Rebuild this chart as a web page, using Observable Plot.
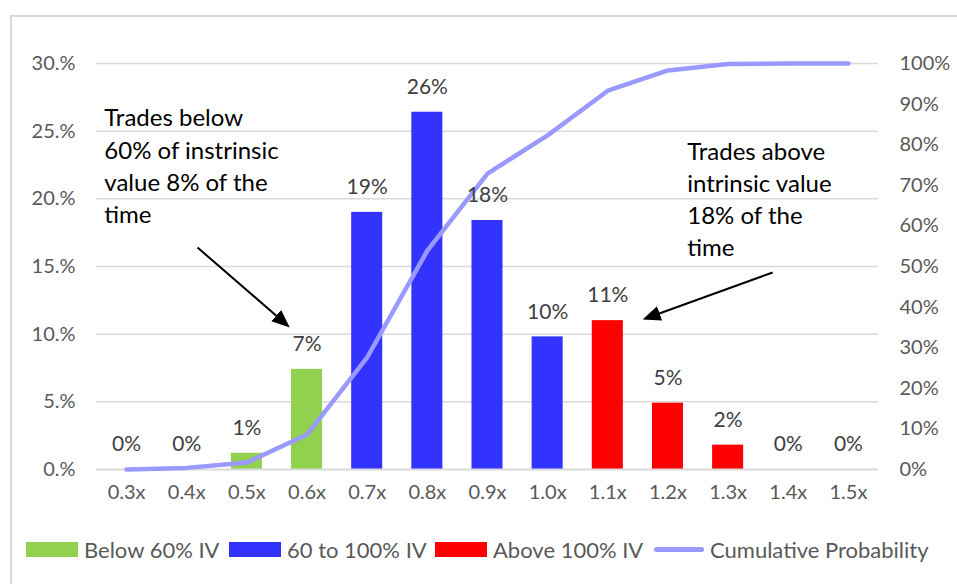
<!DOCTYPE html>
<html><head><meta charset="utf-8">
<script src="https://cdn.jsdelivr.net/npm/d3@7"></script>
<script src="https://cdn.jsdelivr.net/npm/@observablehq/plot@0.6"></script>
<style>
body{margin:0;background:#fff;font-family:Lato,"Open Sans",sans-serif;}
#wrap{position:relative;width:957px;height:584px;overflow:hidden;background:#fff;}
#frame{position:absolute;left:10px;top:15px;width:1200px;height:1200px;border:2px solid #d9d9d9;box-sizing:border-box;}
#chart{position:absolute;left:0;top:0;}
#legend{position:absolute;left:0;top:537px;width:957px;height:24px;font-size:22px;color:#595959;}
.item{position:absolute;top:0;display:flex;align-items:center;height:24px;white-space:nowrap;}
.sw{width:52px;height:15px;margin-right:6px;}
.ln{width:50px;height:5px;border-radius:3px;margin:0 6px 0 2px;background:#9999ff;}
</style></head>
<body>
<div id="wrap"><div id="frame"></div><div id="chart"></div><div id="legend"></div></div>
<script>
// categories (price / intrinsic value multiple)
const categories = [0.3, 0.4, 0.5, 0.6, 0.7, 0.8, 0.9, 1.0, 1.1, 1.2, 1.3, 1.4, 1.5];
// share of time at each multiple (%)
const share = [0, 0, 1.2, 7.4, 19.0, 26.4, 18.4, 9.8, 11.0, 4.9, 1.8, 0, 0];
// cumulative probability (%)
const cumulative = [0, 0.4, 1.7, 8.6, 27.6, 53.9, 72.9, 82.3, 93.3, 98.3, 99.9, 100, 100];
// group of each bar
const groups = ["Below 60% IV","Below 60% IV","Below 60% IV","Below 60% IV",
  "60 to 100% IV","60 to 100% IV","60 to 100% IV","60 to 100% IV",
  "Above 100% IV","Above 100% IV","Above 100% IV","Above 100% IV","Above 100% IV"];
const seriesNames = ["Below 60% IV", "60 to 100% IV", "Above 100% IV"];
const seriesColors = ["#92D050", "#3333FF", "#FF0000"];
const lineName = "Cumulative Probability";
const lineColor = "#9999FF";
// axis ticks
const leftTicks = [0, 5, 10, 15, 20, 25, 30];
const rightTicks = [0, 10, 20, 30, 40, 50, 60, 70, 80, 90, 100];
// annotations (x in multiple units, y in left-axis %)
const noteTexts = ["Trades below\n60% of instrinsic\nvalue 8% of the\ntime", "Trades above\nintrinsic value\n18% of the\ntime"];
const noteX = [0.263, 1.232];
const noteY = [22.55, 20.08];
const arrowFromX = [0.418, 1.374];
const arrowFromY = [16.4, 14.56];
const arrowToX = [0.5676, 1.1626];
const arrowToY = [10.64, 11.16];

const rightMax = 100, leftMax = 30;
const toLeft = v => v * leftMax / rightMax;
const halfBar = 0.0258;

const data = categories.map((c, i) => ({cat: c, share: share[i], cum: cumulative[i], group: groups[i]}));
const notes = noteTexts.map((t, i) => ({text: t, x: noteX[i], y: noteY[i]}));
const arrows = arrowFromX.map((x, i) => ({x1: x, y1: arrowFromY[i], x2: arrowToX[i], y2: arrowToY[i]}));

function triangle(color) {
  const m = d3.create("svg:marker")
    .attr("viewBox", "-6 -5 12 10")
    .attr("markerWidth", 9).attr("markerHeight", 7.5)
    .attr("refX", 4).attr("refY", 0)
    .attr("orient", "auto");
  m.append("path").attr("d", "M-6,-5L6,0L-6,5Z").attr("fill", color).attr("stroke", "none");
  return m.node();
}

const chart = Plot.plot({
  width: 957,
  height: 520,
  marginLeft: 96,
  marginRight: 79,
  marginTop: 63,
  marginBottom: 51,
  style: {fontFamily: "Lato, 'Open Sans', sans-serif", color: "#595959", background: "transparent", overflow: "visible"},
  x: {type: "linear", domain: [0.25, 1.55]},
  y: {domain: [0, leftMax]},
  color: {domain: seriesNames, range: seriesColors},
  marks: [
    Plot.ruleY(leftTicks.filter(d => d > 0), {stroke: "#d9d9d9", strokeWidth: 1.5}),
    Plot.axisY({ticks: leftTicks, tickFormat: d => d + ".%", tickSize: 0, tickPadding: 21, fontSize: 20, label: null}),
    Plot.axisY({anchor: "right", ticks: rightTicks.map(toLeft), tickFormat: d => Math.round(d * rightMax / leftMax) + "%", tickSize: 0, tickPadding: 21, fontSize: 20, label: null}),
    Plot.axisX({ticks: categories, tickFormat: d => d.toFixed(1) + "x", tickSize: 0, tickPadding: 15, fontSize: 20, label: null}),
    Plot.rectY(data, {x1: d => d.cat - halfBar, x2: d => d.cat + halfBar, y: "share", fill: "group"}),
    Plot.ruleY([0], {stroke: "#d9d9d9", strokeWidth: 2}),
    Plot.line(data, {x: "cat", y: d => toLeft(d.cum), stroke: lineColor, strokeWidth: 4.5, strokeLinejoin: "round", strokeLinecap: "round"}),
    Plot.text(data, {x: "cat", y: "share", text: d => Math.round(d.share) + "%", dy: -25, fontSize: 21, fill: "#404040"}),
    Plot.link(arrows, {x1: "x1", y1: "y1", x2: "x2", y2: "y2", stroke: "black", strokeWidth: 2, markerEnd: triangle}),
    Plot.text(notes, {x: "x", y: "y", text: "text", textAnchor: "start", lineAnchor: "middle", lineHeight: 1.34, fontSize: 24, fill: "black"})
  ]
});
document.getElementById("chart").appendChild(chart);

// legend
const legend = document.getElementById("legend");
const lefts = [26, 229, 435];
seriesNames.forEach((n, i) => {
  const it = document.createElement("div");
  it.className = "item";
  it.style.left = lefts[i] + "px";
  it.innerHTML = `<span class="sw" style="background:${seriesColors[i]}"></span><span>${n}</span>`;
  legend.appendChild(it);
});
const li = document.createElement("div");
li.className = "item";
li.style.left = "652px";
li.innerHTML = `<span class="ln"></span><span>${lineName}</span>`;
legend.appendChild(li);
</script>
</body></html>
